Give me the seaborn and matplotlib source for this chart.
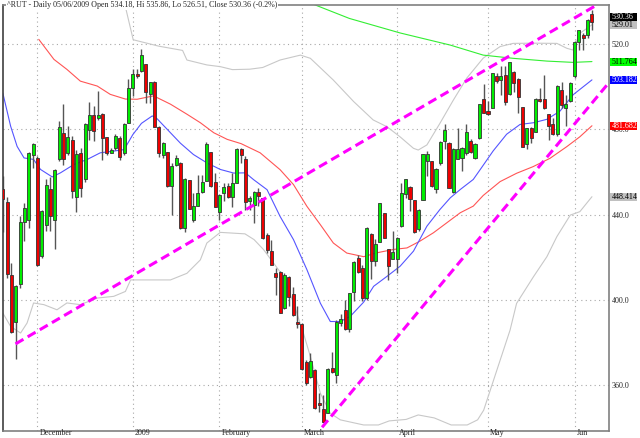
import matplotlib
matplotlib.use("Agg")
import matplotlib.pyplot as plt
import matplotlib.transforms as mtransforms
from matplotlib.patches import Rectangle
import numpy as np
import pandas as pd
import seaborn as sns

# trading days shown: 18 Nov 2008 .. 5 Jun 2009
first_day = "2008-11-18"
last_day = "2009-06-05"
holidays = ["2008-11-27", "2008-12-25", "2009-01-01", "2009-01-19",
            "2009-02-16", "2009-04-10", "2009-05-25"]

opens = [452.2, 446.1, 411.7, 389.5, 407.5, 436.7, 437.7, 468.0,
         466.6, 420.5, 435.0, 452.1, 437.7, 465.9, 478.4, 469.0, 474.8, 448.5, 469.0, 456.5, 479.6,
         486.5, 485.3, 487.0, 476.3, 468.7, 471.3, 476.0, 468.7, 483.1,
         499.6, 505.9, 507.5, 510.6, 496.5, 502.4, 481.3, 468.2, 469.3, 453.3, 463.1, 464.3, 433.7,
         456.2, 437.6, 444.2, 450.5, 456.0, 469.3, 455.4,
         441.1, 450.2, 453.3, 448.2, 454.9, 470.6, 466.1, 446.3, 444.7, 450.5, 447.8, 430.6, 422.8,
         412.6, 412.9, 396.2, 411.0, 402.9, 389.9,
         388.8, 370.7, 364.1, 367.2, 351.6, 348.8, 347.2, 367.9, 364.9, 389.0, 395.1, 386.3, 403.6,
         419.7, 415.0, 401.0, 430.7, 418.2, 427.1, 440.6, 423.7, 419.3,
         419.3, 434.6, 449.5, 453.1, 446.8, 433.1, 447.1, 465.1, 465.1, 451.8, 464.0, 474.5, 473.7,
         450.6, 466.2, 466.7, 469.0, 474.5, 466.7, 476.1, 494.1,
         488.5, 490.1, 504.8, 503.3, 505.6, 496.6, 506.8, 503.7, 490.4, 473.3, 480.8, 478.9, 494.4,
         494.4, 487.0, 482.6, 477.7, 498.6, 490.1, 493.2,
         504.8, 521.1, 524.2, 524.2, 534.18]
highs = [458.0, 448.5, 417.3, 407.0, 439.2, 445.5, 469.3, 473.6,
         467.4, 442.2, 456.5, 457.6, 461.2, 483.8, 492.0, 481.5, 476.8, 470.5, 471.3, 483.0, 492.8,
         490.9, 497.9, 487.5, 476.5, 471.3, 477.6, 476.8, 483.1, 503.5,
         508.2, 508.2, 517.6, 510.8, 502.4, 502.6, 481.5, 473.9, 469.5, 464.3, 467.8, 464.5, 457.0,
         456.4, 450.2, 458.8, 458.8, 474.0, 469.5, 459.6,
         449.6, 454.9, 454.9, 459.6, 471.1, 471.4, 467.4, 448.6, 451.0, 452.5, 448.0, 431.4, 428.0,
         415.0, 413.4, 412.6, 411.2, 406.3, 397.0,
         389.0, 372.0, 375.0, 367.5, 356.3, 355.5, 367.9, 375.8, 390.7, 393.4, 400.1, 403.4, 418.1,
         421.2, 416.6, 434.0, 431.5, 428.4, 445.5, 440.8, 424.0, 432.3,
         429.3, 455.0, 456.7, 453.4, 447.0, 442.8, 468.5, 469.8, 465.3, 462.0, 474.6, 482.3, 474.0,
         471.3, 480.8, 471.8, 482.3, 475.3, 473.5, 491.9, 501.1,
         493.2, 506.6, 506.4, 509.5, 509.5, 511.7, 507.2, 503.9, 490.6, 480.8, 481.0, 494.7, 499.4,
         505.3, 487.2, 485.4, 501.0, 502.2, 496.3, 502.2,
         521.3, 526.7, 525.0, 531.6, 535.86]
lows = [431.7, 410.5, 384.5, 372.3, 405.5, 427.5, 433.8, 462.0,
        416.0, 419.7, 432.2, 432.2, 423.9, 465.0, 463.5, 468.0, 447.9, 441.1, 448.5, 455.5, 475.0,
        474.5, 484.5, 465.5, 468.0, 469.0, 470.5, 465.5, 468.2, 482.8,
        495.7, 504.3, 507.0, 492.5, 492.5, 481.0, 467.1, 466.7, 453.0, 440.0, 462.7, 433.5, 431.7,
        442.5, 436.7, 443.9, 450.2, 455.7, 453.0, 443.4,
        437.3, 446.3, 447.7, 443.6, 454.7, 464.3, 442.3, 442.3, 436.1, 444.0, 428.8, 422.1, 416.3,
        402.4, 393.9, 395.9, 397.0, 392.3, 386.8,
        367.3, 360.3, 363.3, 349.0, 347.7, 342.8, 346.9, 365.8, 361.0, 387.8, 386.0, 385.2, 399.3,
        412.6, 399.3, 400.2, 409.9, 415.8, 427.0, 429.0, 409.3, 419.0,
        412.7, 434.4, 448.0, 441.7, 431.6, 432.3, 447.0, 458.1, 453.2, 450.3, 463.5, 470.6, 452.4,
        450.3, 465.9, 460.4, 468.2, 469.1, 465.9, 475.3, 487.6,
        486.5, 489.9, 501.9, 496.3, 491.6, 496.3, 497.5, 487.8, 471.6, 470.7, 473.8, 478.7, 492.9,
        489.4, 474.9, 477.2, 476.9, 489.8, 481.6, 492.9,
        504.3, 517.2, 517.2, 522.6, 526.51]
closes = [447.4, 412.3, 385.1, 406.4, 436.7, 443.2, 469.0, 473.2,
          416.6, 441.8, 454.1, 439.6, 460.8, 481.2, 465.9, 476.3, 451.3, 468.5, 452.6, 482.6, 486.7,
          479.2, 486.5, 476.0, 468.9, 470.5, 476.8, 467.0, 482.6, 499.6,
          505.9, 505.1, 514.8, 497.3, 502.0, 481.3, 469.0, 473.7, 453.3, 462.7, 466.7, 433.7, 456.8,
          442.7, 444.2, 450.2, 455.4, 473.3, 453.3, 443.6,
          449.4, 453.0, 448.5, 454.9, 470.9, 467.8, 445.8, 447.8, 450.5, 448.6, 429.0, 423.3, 416.5,
          410.7, 394.1, 411.8, 401.3, 392.9, 388.8,
          367.5, 361.0, 371.6, 349.2, 350.8, 343.0, 367.5, 366.0, 389.9, 391.0, 386.3, 403.2, 417.6,
          412.9, 400.8, 433.8, 418.2, 426.3, 445.3, 429.1, 415.8, 422.4,
          429.1, 450.3, 456.5, 447.4, 431.8, 442.4, 468.3, 468.3, 453.4, 461.5, 474.1, 479.5, 452.6,
          470.9, 470.9, 471.4, 478.7, 469.4, 473.0, 491.7, 487.8,
          487.3, 506.4, 502.5, 504.8, 492.9, 511.5, 501.7, 495.0, 471.8, 480.5, 476.1, 494.4, 493.2,
          489.8, 481.6, 477.7, 500.2, 491.6, 491.9, 501.7,
          521.1, 526.5, 522.6, 531.2, 530.36]

# overlay lines at bar positions
ma20_x = [0, 1.8, 3.3, 4.9, 7.1, 8.7, 11.4, 13.3, 16.4, 19.5, 22.5, 25.6, 28, 30, 32, 34.5, 35.6,
          38.7, 41, 44, 47.1, 50.2, 53.3, 56, 57.9, 61, 64, 67.1, 70.2, 73.3, 75.6, 77.9, 80.2,
          83.3, 85.6, 88.7, 91.7, 94.8, 97.9, 100.9, 103.3, 105.6, 108.6, 110.5, 113.2, 116.3,
          119.4, 122.5, 125.6, 128.6, 131.7, 136]
ma20_y = [497.0, 481.5, 472.0, 466.6, 465.9, 461.2, 457.7, 459.6, 463.5, 465.9, 469.0, 469.8, 470.5,
          477.5, 482.8, 486.3, 485.0, 478.4, 473.5, 468.2, 464.3, 461.2, 459.5, 459.6, 456.4,
          451.7, 439.2, 428.3, 414.2, 398.5, 389.9, 389.9, 392.3, 399.0, 406.4, 411.1, 415.8,
          422.9, 434.6, 442.4, 447.9, 451.8, 456.5, 462.0, 469.9, 477.7, 482.3, 483.1, 484.7,
          488.5, 496.3, 503.182]
ma50_x = [8.3, 11.8, 14.8, 17.9, 21.8, 24.8, 28.3, 31, 34.8, 38.7, 42.5, 45.6, 48.7, 51.8, 55,
          59.4, 64, 67.1, 70.2, 73.3, 76.3, 79.4, 83.3, 86.3, 90.2, 93.3, 96.3, 99.4, 102.5,
          105.6, 108.6, 110.9, 114.8, 118.6, 122.4, 126.3, 130.2, 133.2, 136]
ma50_y = [522.2, 512.8, 508.1, 502.6, 500.3, 496.4, 494.2, 494.1, 495.7, 491.8, 487.1, 483.1,
          478.4, 475.3, 473.3, 469.0, 461.1, 454.1, 443.9, 435.3, 426.7, 422.0, 420.3, 422.1,
          423.7, 424.4, 427.6, 431.5, 436.2, 440.9, 444.0, 449.0, 455.5, 459.4, 462.5, 466.4,
          471.9, 476.5, 481.682]
ma200_x = [70, 80, 91.7, 103.3, 110.9, 117.8, 125.6, 131.6, 136]
ma200_y = [540.0, 532.0, 525.2, 519.5, 514.8, 513.3, 512.0, 511.4, 511.764]
upper_x = [28, 30.1, 36, 41.5, 42.5, 47.1, 50.2, 53, 57, 60, 64, 68.7, 71, 76.3, 81, 85.5, 88.7,
           91.7, 94.8, 95.9, 97.9, 100.9, 104, 107.1, 110.9, 114.8, 117.8, 122.4, 127.9, 130.2,
           131.6, 133.2, 136]
upper_y = [540.0, 522.0, 519.0, 517.0, 512.5, 510.2, 509.4, 508.0, 508.2, 509.0, 512.5, 514.8,
           513.3, 503.1, 493.0, 484.4, 481.2, 476.5, 471.1, 470.3, 472.7, 482.8, 493.7, 504.0,
           513.4, 518.8, 520.3, 520.4, 520.3, 518.0, 517.2, 525.0, 529.01]
lower_x = [0, 1.8, 4.1, 5.6, 7.1, 9.5, 12.5, 14.8, 17.9, 21.8, 25.6, 28.3, 29.5, 31.8, 38.7,
           42.5, 45.6, 47.1, 50.2, 55.9, 58, 60.2, 62.5, 64.8, 67.1, 69.4, 71, 73.3, 75.6, 77.9,
           83.3, 86.7, 89.2, 93.1, 95.9, 99.6, 103.5, 107.2, 109.6, 111, 117.1, 118.6, 122.5,
           125.6, 127.9, 131, 133.2, 136]
lower_y = [393.9, 387.6, 384.5, 389.2, 398.6, 397.8, 395.4, 398.6, 397.8, 400.9, 401.7, 404.0,
           409.4, 409.4, 409.4, 412.5, 418.8, 426.7, 431.7, 431.0, 428.3, 423.6, 417.3, 411.0,
           398.5, 384.4, 373.5, 356.3, 346.9, 343.8, 341.4, 341.4, 343.3, 344.0, 346.1, 344.7,
           341.4, 341.4, 343.8, 348.3, 385.9, 398.4, 410.9, 420.3, 429.7, 439.8, 441.4, 448.414]

# hand-drawn trend lines (bar index, price)
trend_top_x = [2.93, 136.7]
trend_top_y = [379.4, 537.8]
trend_bottom_x = [73.7, 139.8]
trend_bottom_y = [340.3, 501.6]

month_labels = ["December", "2009", "February", "March", "April", "May", "Jun"]
price_ticks = [360, 400, 440, 480, 520]

# ---------------------------------------------------------------------------
dates = [d for d in pd.bdate_range(first_day, last_day) if d.strftime("%Y-%m-%d") not in holidays]
bars = pd.DataFrame({"date": dates, "open": opens, "high": highs, "low": lows, "close": closes})
bars["pos"] = np.arange(len(bars))
month_start = bars.groupby(bars["date"].dt.to_period("M"))["pos"].min().tolist()[1:]

GREEN = "#00ee00"
RED = "#ee0000"
GRID = "#a8a8a8"
FRAME = "#808080"

sns.set_style("white")
plt.rcParams["font.family"] = ["Liberation Serif", "DejaVu Serif"]

fig = plt.figure(figsize=(6.4, 4.38), dpi=100)
ax = fig.add_axes([0.0042, 0.0171, 0.9478, 0.9715])

for y in price_ticks:
    ax.axhline(y, color=GRID, lw=0.8, ls=(0, (1, 3)), zorder=0)
for m in month_start:
    ax.axvline(m, color=GRID, lw=0.8, ls=(0, (1, 3)), zorder=0)

sns.lineplot(x=upper_x, y=upper_y, ax=ax, color="#c8c8c8", lw=0.8, sort=False, zorder=1)
sns.lineplot(x=lower_x, y=lower_y, ax=ax, color="#c8c8c8", lw=0.8, sort=False, zorder=1)
sns.lineplot(x=ma200_x, y=ma200_y, ax=ax, color="#33ee33", lw=0.8, sort=False, zorder=1)
sns.lineplot(x=ma50_x, y=ma50_y, ax=ax, color="#ff5555", lw=0.8, sort=False, zorder=1)
sns.lineplot(x=ma20_x, y=ma20_y, ax=ax, color="#5555ff", lw=0.8, sort=False, zorder=1)

# candles
up = bars["close"] >= bars["open"]
body_lo = bars[["open", "close"]].min(axis=1)
body_h = (bars["close"] - bars["open"]).abs().clip(lower=0.6)
ax.vlines(bars["pos"], bars["low"], bars["high"], color="#555555", lw=1.0, zorder=2)
ax.bar(bars["pos"], body_h, bottom=body_lo, width=0.7,
       color=np.where(up, GREEN, RED), edgecolor="#333333", linewidth=0.6, zorder=3)

sns.lineplot(x=trend_top_x, y=trend_top_y, ax=ax, color="#ff00ff", lw=2.2,
             sort=False, zorder=4).lines[-1].set_dashes((3, 1.6))
sns.lineplot(x=trend_bottom_x, y=trend_bottom_y, ax=ax, color="#ff00ff", lw=2.2,
             sort=False, zorder=4).lines[-1].set_dashes((3, 1.6))

ax.set_xlim(-0.03, 140.0)
ax.set_ylim(338.8, 538.3)
for side in ["left", "right", "top", "bottom"]:
    ax.spines[side].set_color(FRAME)
    ax.spines[side].set_linewidth(1.2)
ax.spines["left"].set_color("#404040")

ax.yaxis.tick_right()
ax.set_yticks(price_ticks)
ax.set_yticklabels([f"{v:.1f}" for v in price_ticks], fontsize=5.8)
ax.tick_params(axis="y", length=0, pad=1.5)
ax.set_xticks(month_start)
ax.set_xticklabels([])
ax.tick_params(axis="x", length=4, width=0.8, color="#404040", direction="out")
ax.set_xlabel("")
ax.set_ylabel("")

# month names sit just right of each tick, at the very bottom of the image
xt = mtransforms.blended_transform_factory(ax.transData, fig.transFigure)
for m, name in zip(month_start, month_labels):
    ax.text(m + 0.5, 0.003, name, transform=xt, ha="left", va="bottom", fontsize=5.8,
            clip_on=False)

# value boxes on the right edge
box_vals = [closes[-1], upper_y[-1], ma200_y[-1], ma20_y[-1], ma50_y[-1], lower_y[-1]]
box_face = ["black", "#c0c0c0", "#00ff00", "#0000ff", "#ff0000", "#c0c0c0"]
box_ink = ["white", "black", "black", "white", "white", "black"]
box_h = 3.75
order = np.argsort(box_vals)
centers = list(box_vals)
for a, b in zip(order[:-1], order[1:]):
    if centers[b] - centers[a] < box_h:
        centers[b] = centers[a] + box_h
yt = mtransforms.blended_transform_factory(ax.transAxes, ax.transData)
for val, cy, face, ink in zip(box_vals, centers, box_face, box_ink):
    ax.add_patch(Rectangle((1.0015, cy - box_h / 2), 0.0445, box_h, transform=yt,
                           facecolor=face, edgecolor="none", clip_on=False, zorder=5))
    ax.text(1.004, cy, f"{val:g}" if val != closes[-1] else f"{val:.2f}", transform=yt,
            ha="left", va="center", fontsize=5.8, color=ink, zorder=6, clip_on=False)

last = bars.iloc[-1]
change = (last["close"] / bars["close"].iloc[-2] - 1) * 100
header = (f"^RUT - Daily {last['date']:%d/%m/%Y} Open {last['open']:.2f}, Hi {last['high']:.2f}, "
          f"Lo {last['low']:.2f}, Close {last['close']:.2f} ({change:.1f}%)")
ax.text(0.007, 1.0, header, transform=ax.transAxes, ha="left", va="center", fontsize=5.8,
        bbox=dict(facecolor="white", edgecolor="none", pad=0.6), zorder=6)

fig.savefig("out.png", dpi=100)
